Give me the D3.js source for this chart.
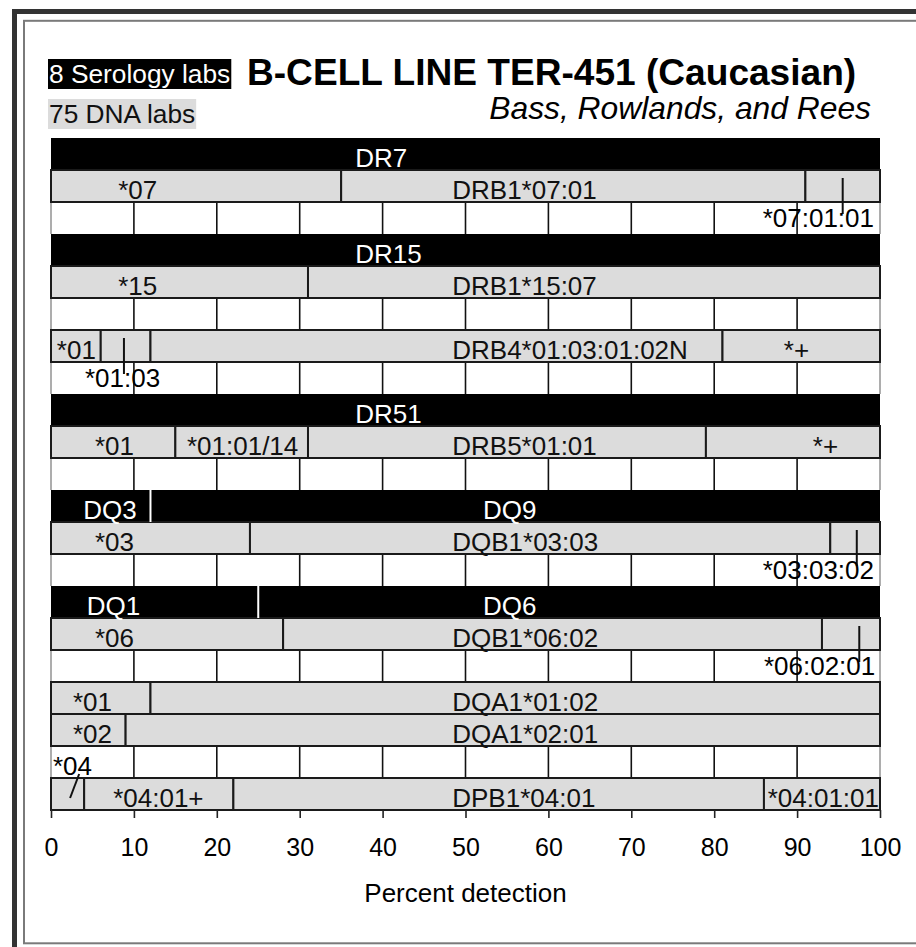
<!DOCTYPE html>
<html>
<head>
<meta charset="utf-8">
<script src="https://cdn.jsdelivr.net/npm/d3@7"></script>
<style>
  body { margin: 0; background: #fff; }
  svg { display: block; font-family: "Liberation Sans", Arial, sans-serif; }
</style>
</head>
<body>
<div id="chart"></div>
<script>
// Percent detection of each allele / antigen call.
// Each segment: [from, to, label, label start (in percent)]
const dr7 = [[0, 100, 'DR7', 36.7]];
const drb1_07 = [[0, 35, '*07', 8.1], [35, 91, 'DRB1*07:01', 48.4], [91, 100, '', null]];
const dr15 = [[0, 100, 'DR15', 36.7]];
const drb1_15 = [[0, 31, '*15', 8.1], [31, 100, 'DRB1*15:07', 48.4]];
const drb4 = [[0, 6, '*01', 0.7], [6, 12, '', null], [12, 81, 'DRB4*01:03:01:02N', 48.4], [81, 100, '*+', 88.4]];
const dr51 = [[0, 100, 'DR51', 36.7]];
const drb5 = [[0, 15, '*01', 5.3], [15, 31, '*01:01/14', 16.4], [31, 79, 'DRB5*01:01', 48.4], [79, 100, '*+', 91.9]];
const dq3_9 = [[0, 12, 'DQ3', 3.9], [12, 100, 'DQ9', 52.1]];
const dqb1_03 = [[0, 24, '*03', 5.3], [24, 94, 'DQB1*03:03', 48.4], [94, 100, '', null]];
const dq1_6 = [[0, 25, 'DQ1', 4.3], [25, 100, 'DQ6', 52.1]];
const dqb1_06 = [[0, 28, '*06', 5.3], [28, 93, 'DQB1*06:02', 48.4], [93, 100, '', null]];
const dqa1_01 = [[0, 12, '*01', 2.65], [12, 100, 'DQA1*01:02', 48.4]];
const dqa1_02 = [[0, 9, '*02', 2.65], [9, 100, 'DQA1*02:01', 48.4]];
const dpb1 = [[0, 4, '', null], [4, 22, '*04:01+', 7.5], [22, 86, 'DPB1*04:01', 48.4], [86, 100, '*04:01:01', 86.45]];

// 'sero' = black serology bar, 'dna' = grey DNA bar, 'grid' = empty row with grid lines
const rowKinds = ['sero', 'dna', 'grid', 'sero', 'dna', 'grid', 'dna', 'grid', 'sero', 'dna', 'grid',
  'sero', 'dna', 'grid', 'sero', 'dna', 'grid', 'dna', 'dna', 'grid', 'dna'];
const rowSegments = [dr7, drb1_07, null, dr15, drb1_15, null, drb4, null, dr51, drb5, null,
  dq3_9, dqb1_03, null, dq1_6, dqb1_06, null, dqa1_01, dqa1_02, null, dpb1];

// small segments whose name is written outside the bar
const callouts = [
  { row: 1, at: 95.5, at2: 95.5, text: '*07:01:01', textAt: 85.85, below: true },
  { row: 6, at: 8.8, at2: 8.8, text: '*01:03', textAt: 4.1, below: true },
  { row: 12, at: 97.2, at2: 97.2, text: '*03:03:02', textAt: 85.85, below: true },
  { row: 15, at: 97.5, at2: 97.5, text: '*06:02:01', textAt: 86.0, below: true },
  { row: 20, at: 2.3, at2: 3.4, text: '*04', textAt: 0.24, below: false },
];

const xTicks = [0, 10, 20, 30, 40, 50, 60, 70, 80, 90, 100];
const gridLines = [10, 20, 30, 40, 50, 60, 70, 80, 90];

const width = 916;
const height = 947;
const plot = { left: 51, right: 880, top: 138, bottom: 810 };

const svg = d3.select('#chart')
  .append('svg')
  .attr('width', width)
  .attr('height', height);

// page frame
svg.append('rect')
  .attr('x', 14.5).attr('y', 11.5)
  .attr('width', 1000).attr('height', 1000)
  .attr('fill', 'none').attr('stroke', '#333').attr('stroke-width', 5);
svg.append('rect')
  .attr('x', 24).attr('y', 20.8)
  .attr('width', 1000).attr('height', 922.5)
  .attr('fill', 'none').attr('stroke', '#7a7a7a').attr('stroke-width', 2);

const x = d3.scaleLinear().domain([0, 100]).range([plot.left, plot.right]);
const y = d3.scaleBand().domain(d3.range(rowKinds.length)).range([plot.top, plot.bottom]);
const bh = y.bandwidth();

// header
function boxedText(txt, tx, ty, fill, color) {
  const g = svg.append('g');
  const t = g.append('text')
    .attr('x', tx).attr('y', ty)
    .attr('font-size', 26.3).attr('fill', color)
    .text(txt);
  const bb = t.node().getBBox();
  g.insert('rect', 'text')
    .attr('x', bb.x - 1).attr('y', bb.y)
    .attr('width', bb.width + 2).attr('height', bb.height)
    .attr('fill', fill);
}
boxedText('8 Serology labs', 49, 83, '#000', '#fff');
boxedText('75 DNA labs', 49, 123, '#dcdcdc', '#111');

svg.append('text')
  .attr('x', 247).attr('y', 85)
  .attr('font-size', 37.1).attr('font-weight', 'bold')
  .attr('fill', '#000')
  .text('B-CELL LINE TER-451 (Caucasian)');
svg.append('text')
  .attr('x', 871).attr('y', 119)
  .attr('text-anchor', 'end')
  .attr('font-size', 31.8).attr('font-style', 'italic')
  .attr('fill', '#000')
  .text('Bass, Rowlands, and Rees');

// empty grid rows
const gridRows = d3.range(rowKinds.length).filter((i) => rowKinds[i] === 'grid');
const gr = svg.append('g')
  .selectAll('g')
  .data(gridRows)
  .join('g');
gr.selectAll('line.grid')
  .data((i) => gridLines.map((v) => ({ i, v })))
  .join('line')
  .attr('class', 'grid')
  .attr('x1', (d) => x(d.v)).attr('x2', (d) => x(d.v))
  .attr('y1', (d) => y(d.i)).attr('y2', (d) => y(d.i) + bh)
  .attr('stroke', '#111').attr('stroke-width', 1.6);
gr.selectAll('line.edge')
  .data((i) => [0, 100].map((v) => ({ i, v })))
  .join('line')
  .attr('class', 'edge')
  .attr('x1', (d) => x(d.v)).attr('x2', (d) => x(d.v))
  .attr('y1', (d) => y(d.i)).attr('y2', (d) => y(d.i) + bh)
  .attr('stroke', '#999').attr('stroke-width', 1.6);

// bars
const segs = [];
rowSegments.forEach((row, i) => {
  if (!row) return;
  row.forEach(([from, to, label, at]) => segs.push({ i, kind: rowKinds[i], from, to, label, at }));
});

const bars = svg.append('g');
bars.selectAll('rect')
  .data(segs)
  .join('rect')
  .attr('x', (d) => x(d.from))
  .attr('y', (d) => y(d.i))
  .attr('width', (d) => x(d.to) - x(d.from))
  .attr('height', bh)
  .attr('fill', (d) => (d.kind === 'sero' ? '#000' : '#dcdcdc'))
  .attr('stroke', (d) => (d.kind === 'sero' ? 'none' : '#1a1a1a'))
  .attr('stroke-width', 2);

// white dividers between serology antigens
bars.selectAll('line')
  .data(segs.filter((d) => d.kind === 'sero' && d.from > 0))
  .join('line')
  .attr('x1', (d) => x(d.from)).attr('x2', (d) => x(d.from))
  .attr('y1', (d) => y(d.i)).attr('y2', (d) => y(d.i) + bh)
  .attr('stroke', '#fff').attr('stroke-width', 2);

bars.selectAll('text')
  .data(segs.filter((d) => d.label))
  .join('text')
  .attr('x', (d) => x(d.at))
  .attr('y', (d) => y(d.i) + 29)
  .attr('font-size', 26)
  .attr('fill', (d) => (d.kind === 'sero' ? '#fff' : '#111'))
  .text((d) => d.label);

// callouts
const co = svg.append('g');
co.selectAll('line')
  .data(callouts)
  .join('line')
  .attr('x1', (d) => x(d.at))
  .attr('x2', (d) => x(d.at2))
  .attr('y1', (d) => (d.below ? y(d.row) + 8 : y(d.row) + 20))
  .attr('y2', (d) => (d.below ? y(d.row + 1) + 12 : y(d.row) - 4))
  .attr('stroke', '#111').attr('stroke-width', 2);
co.selectAll('text')
  .data(callouts)
  .join('text')
  .attr('x', (d) => x(d.textAt))
  .attr('y', (d) => (d.below ? y(d.row + 1) + 25 : y(d.row - 1) + 29))
  .attr('font-size', 26)
  .attr('fill', '#000')
  .text((d) => d.text);

// x axis
const axis = svg.append('g')
  .attr('transform', `translate(0,${plot.bottom})`)
  .call(d3.axisBottom(x).tickValues(xTicks).tickSize(8).tickFormat(d3.format('d')));
axis.select('.domain').remove();
axis.selectAll('.tick line').attr('stroke', '#222').attr('stroke-width', 1.6);
axis.selectAll('.tick text')
  .attr('y', 46).attr('dy', 0)
  .attr('font-size', 25)
  .attr('font-family', '"Liberation Sans", Arial, sans-serif')
  .attr('fill', '#000');

svg.append('text')
  .attr('x', (plot.left + plot.right) / 2)
  .attr('y', 902)
  .attr('text-anchor', 'middle')
  .attr('font-size', 26)
  .attr('fill', '#000')
  .text('Percent detection');
</script>
</body>
</html>
